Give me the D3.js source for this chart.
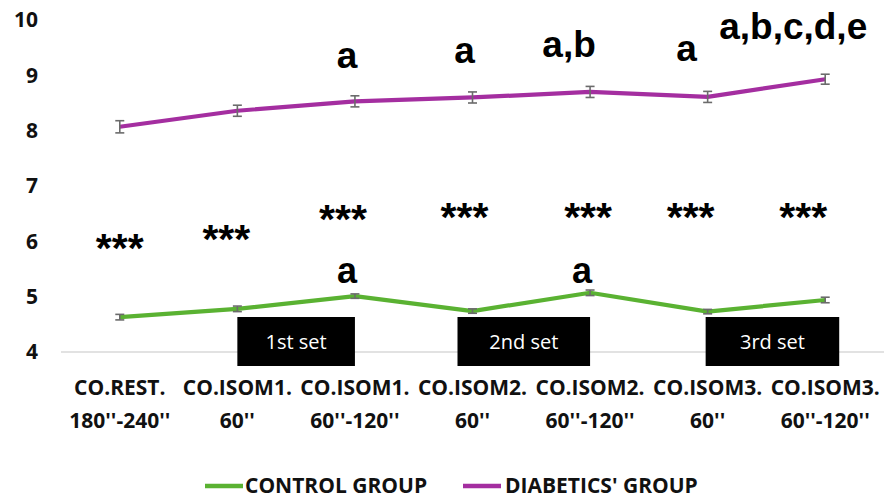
<!DOCTYPE html>
<html><head><meta charset="utf-8">
<script src="https://cdn.jsdelivr.net/npm/d3@7"></script>
<style>
body{margin:0;background:#fff;}
svg{display:block;}
</style></head>
<body>
<svg id="chart" width="884" height="500"></svg>
<script>
const categories = [
  ["CO.REST.", "180''-240''"],
  ["CO.ISOM1.", "60''"],
  ["CO.ISOM1.", "60''-120''"],
  ["CO.ISOM2.", "60''"],
  ["CO.ISOM2.", "60''-120''"],
  ["CO.ISOM3.", "60''"],
  ["CO.ISOM3.", "60''-120''"]
];
const controlValues = [4.63, 4.78, 5.01, 4.74, 5.07, 4.73, 4.94];
const controlErrors = [0.05, 0.05, 0.04, 0.04, 0.05, 0.04, 0.05];
const diabeticValues = [8.07, 8.36, 8.53, 8.60, 8.70, 8.61, 8.93];
const diabeticErrors = [0.11, 0.10, 0.10, 0.10, 0.10, 0.10, 0.09];
const yTicks = [4, 5, 6, 7, 8, 9, 10];
const seriesNames = ["CONTROL GROUP", "DIABETICS' GROUP"];
const starLabels = ["***", "***", "***", "***", "***", "***", "***"];
const diabeticSigLabels = ["", "", "a", "a", "a,b", "a", "a,b,c,d,e"];
const controlSigLabels = ["", "", "a", "", "a", "", ""];
const setLabels = ["1st set", "2nd set", "3rd set"];

const green = "#5ab232", purple = "#a42ea0", errColor = "#6b6b6b";
const labelFont = "'Open Sans', Lato, sans-serif";
const svg = d3.select("#chart");
const idx = d3.range(categories.length);

const x = d3.scalePoint().domain(idx).range([61, 884]).padding(0.5);
const y = d3.scaleLinear().domain([4, 10]).range([352, 20]);

// baseline gridline
svg.append("line").attr("x1", 61).attr("x2", 884).attr("y1", y(4)).attr("y2", y(4))
  .attr("stroke", "#d9d9d9").attr("stroke-width", 1.3);

// y axis labels
const yAxis = d3.axisLeft(y).tickValues(yTicks).tickSize(0).tickPadding(0).tickFormat(d3.format("d"));
const ya = svg.append("g").attr("transform", "translate(38,0)").call(yAxis);
ya.select(".domain").remove();
ya.selectAll("text").attr("font-family", labelFont).attr("font-weight", "bold")
  .attr("font-size", 21).attr("fill", "#111");

// x category labels
const xl = svg.append("g");
idx.forEach(i => {
  const t = xl.append("text").attr("x", x(i)).attr("text-anchor", "middle")
    .attr("font-family", labelFont).attr("font-weight", "bold")
    .attr("font-size", 21).attr("fill", "#111");
  t.append("tspan").attr("x", x(i)).attr("y", 395).text(categories[i][0]);
  t.append("tspan").attr("x", x(i)).attr("y", 428).text(categories[i][1]);
});

// set boxes
const setSpans = [[1, 2, 0, 0], [3, 4, -15, 0], [5, 6, -2, 14]];
setSpans.forEach((s, k) => {
  const x0 = x(s[0]) + s[2], x1 = x(s[1]) + s[3];
  svg.append("rect").attr("x", x0).attr("y", 317).attr("width", x1 - x0).attr("height", 49).attr("fill", "#000");
  svg.append("text").attr("x", (x0 + x1) / 2).attr("y", 349).attr("text-anchor", "middle")
    .attr("font-family", labelFont).attr("font-size", 20).attr("fill", "#fff")
    .text(setLabels[k]);
});

// lines and error bars
function drawSeries(vals, errs, color) {
  const line = d3.line().x((d, i) => x(i)).y(d => y(d));
  svg.append("path").datum(vals).attr("d", line).attr("fill", "none")
    .attr("stroke", color).attr("stroke-width", 4.2).attr("stroke-linejoin", "round");
  const g = svg.append("g").attr("stroke", errColor).attr("stroke-width", 1.6);
  vals.forEach((v, i) => {
    const cx = x(i), t = y(v + errs[i]), b = y(v - errs[i]);
    g.append("line").attr("x1", cx).attr("x2", cx).attr("y1", t).attr("y2", b);
    g.append("line").attr("x1", cx - 4.5).attr("x2", cx + 4.5).attr("y1", t).attr("y2", t);
    g.append("line").attr("x1", cx - 4.5).attr("x2", cx + 4.5).attr("y1", b).attr("y2", b);
  });
}
drawSeries(controlValues, controlErrors, green);
drawSeries(diabeticValues, diabeticErrors, purple);

// annotations (baseline levels in data units, x offsets in px)
const starLevel = [5.63, 5.79, 6.15, 6.19, 6.19, 6.19, 6.19];
const starOffset = [0, -11, -12, -8, -2, -17, -22];
const anno = svg.append("g").attr("font-family", "'Liberation Sans', Arial, sans-serif")
  .attr("font-weight", "bold").attr("fill", "#000").attr("text-anchor", "middle");
starLabels.forEach((s, i) => {
  anno.append("text").attr("x", x(i) + starOffset[i]).attr("y", y(starLevel[i]))
    .attr("font-size", 41).text(s);
});
const topLevel = [0, 0, 9.13, 9.22, 9.33, 9.26, 9.66];
const topOffset = [0, 0, -8, -8, -21, -21, -32];
diabeticSigLabels.forEach((s, i) => {
  if (!s) return;
  anno.append("text").attr("x", x(i) + topOffset[i]).attr("y", y(topLevel[i]))
    .attr("font-size", 37).text(s);
});
const lowOffset = [0, 0, -8, 0, -8, 0, 0];
controlSigLabels.forEach((s, i) => {
  if (!s) return;
  anno.append("text").attr("x", x(i) + lowOffset[i]).attr("y", y(5.25))
    .attr("font-size", 36).text(s);
});

// legend
const legend = svg.append("g").attr("font-family", labelFont)
  .attr("font-weight", "bold").attr("font-size", 21).attr("fill", "#111");
[[205, 245, green], [463, 505, purple]].forEach((p, k) => {
  legend.append("line").attr("x1", p[0]).attr("x2", p[0] + 38).attr("y1", 486).attr("y2", 486)
    .attr("stroke", p[2]).attr("stroke-width", 4.5);
  legend.append("text").attr("x", p[1]).attr("y", 493).text(seriesNames[k]);
});
</script>
</body></html>
